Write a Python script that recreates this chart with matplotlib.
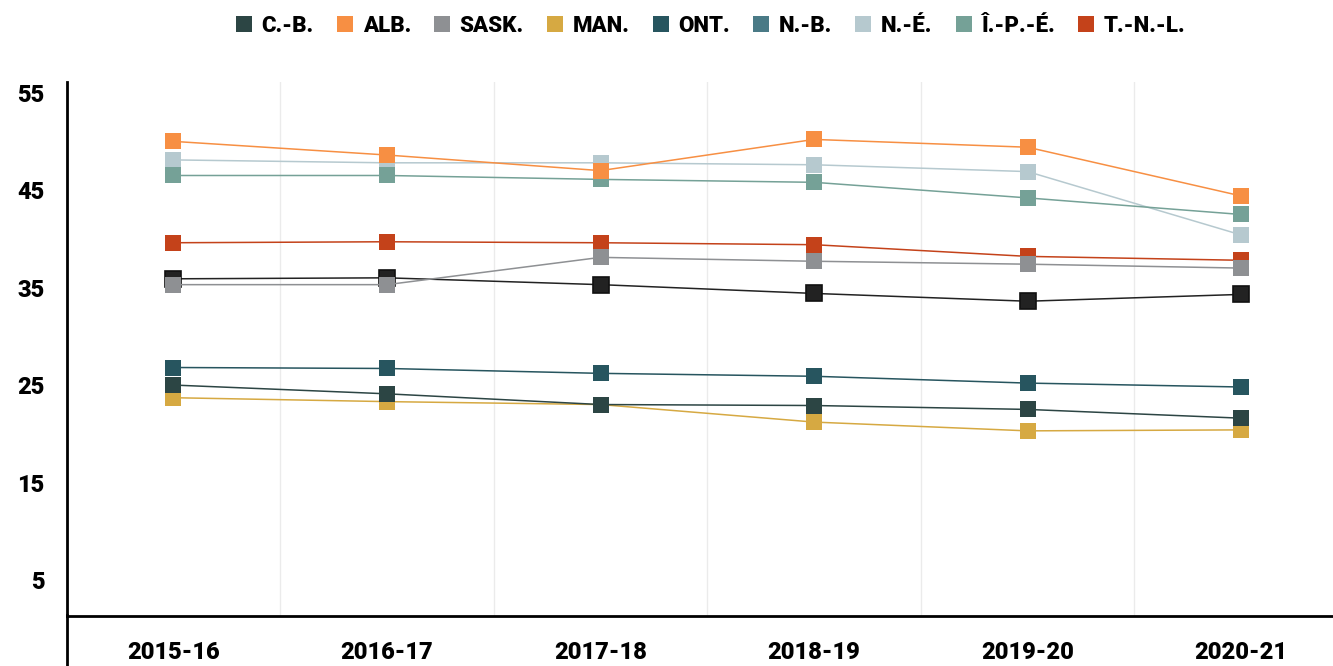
import matplotlib
matplotlib.use("Agg")
import matplotlib.pyplot as plt
from matplotlib.lines import Line2D
import numpy as np

# data
years = ["2015-16", "2016-17", "2017-18", "2018-19", "2019-20", "2020-21"]
cb = [25.0, 24.1, 23.0, 22.9, 22.5, 21.6]
alb = [50.0, 48.6, 47.0, 50.2, 49.4, 44.4]
sask = [35.3, 35.3, 38.1, 37.7, 37.4, 37.0]
man = [23.7, 23.3, 23.0, 21.2, 20.3, 20.4]
ont = [26.8, 26.7, 26.2, 25.9, 25.2, 24.8]
nb = [35.9, 36.0, 35.3, 34.4, 33.6, 34.3]
ne = [48.1, 47.8, 47.8, 47.6, 46.9, 40.4]
ipe = [46.5, 46.5, 46.1, 45.8, 44.2, 42.5]
tnl = [39.6, 39.7, 39.6, 39.4, 38.2, 37.8]

labels = ["C.-B.", "ALB.", "SASK.", "MAN.", "ONT.", "N.-B.", "N.-É.", "Î.-P.-É.", "T.-N.-L."]
colors = ["#2c4544", "#f78f43", "#8e9093", "#d6a942", "#27555f",
          "#4a7a86", "#b6c9cf", "#75a197", "#c4421a"]
yticks = [5, 15, 25, 35, 45, 55]

plt.rcParams['font.family'] = ['Roboto', 'DejaVu Sans']

fig = plt.figure(figsize=(13.33, 6.66), dpi=100)
ax = fig.add_axes([0.050, 0.075, 0.950, 0.802])

x = np.arange(len(years))

def draw(vals, color, z, edge=None):
    ax.plot(x, vals, color=color, lw=1.1, marker="s", markersize=11.5,
            markerfacecolor=color,
            markeredgecolor=edge if edge else color,
            markeredgewidth=1.2 if edge else 0, zorder=z)

# draw order picked so overlaps look like the reference
draw(ne, colors[6], 3)
draw(ipe, colors[7], 4)
draw(tnl, colors[8], 4)
draw(nb, "#222222", 5, edge="#111111")
draw(sask, colors[2], 6)
draw(man, colors[3], 6)
draw(ont, colors[4], 7)
draw(cb, colors[0], 7)
draw(alb, colors[1], 8)

ax.set_xlim(-0.5, 5.43)
ax.set_ylim(1.3, 56.1)
ax.set_yticks(yticks)
ax.set_xticks(x)
ax.set_xticklabels(years)
ax.set_xticks(x[:-1] + 0.5, minor=True)
ax.grid(True, which="minor", axis="x", color="#ebebeb", lw=1)
ax.tick_params(which="both", length=0)
ax.tick_params(axis="x", pad=18, labelsize=17)
ax.tick_params(axis="y", pad=16, labelsize=17)
for lab in ax.get_xticklabels() + ax.get_yticklabels():
    lab.set_fontweight("black")

for s in ["top", "right"]:
    ax.spines[s].set_visible(False)
ax.spines["left"].set_linewidth(2)
ax.spines["bottom"].set_linewidth(2)
# left axis line runs on below the x axis
fig.add_artist(Line2D([0.0503, 0.0503], [0, 0.076], transform=fig.transFigure,
                      color="black", lw=2))

handles = [Line2D([], [], ls="none", marker="s", markersize=12,
                  markerfacecolor=c, markeredgewidth=0) for c in colors]
fig.legend(handles, labels, loc="center", bbox_to_anchor=(0.532, 0.961), ncol=9,
           frameon=False, handletextpad=0.3, columnspacing=0.9, handlelength=1.0,
           prop={"weight": "black", "size": 16})

fig.savefig("out.png", dpi=100)
